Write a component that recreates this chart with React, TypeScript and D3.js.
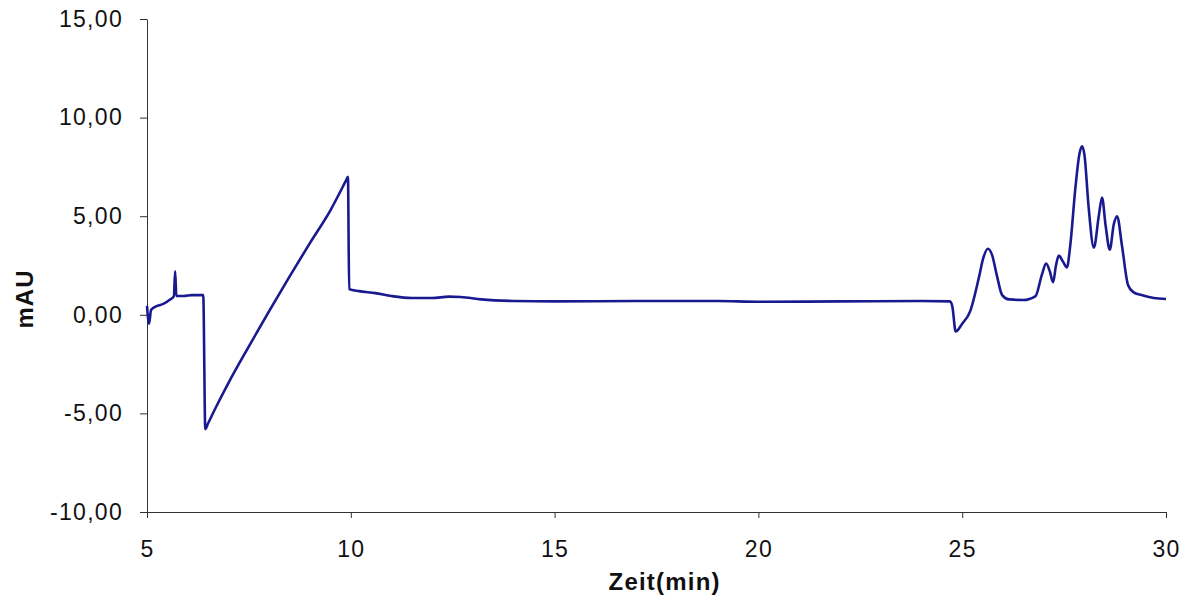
import * as d3 from "d3"
import React, { useEffect, useRef } from "react"

// chromatogram trace: time in min, signal in mAU
const zeit = [
  5.0, 5.05, 5.1, 5.25, 5.4, 5.55, 5.66, 5.69, 5.72, 5.9, 6.1, 6.38,
  6.43, 6.5, 6.7, 7.0, 7.5, 8.0, 8.5, 9.0, 9.5, 9.88, 9.93,
  9.96, 10.2, 10.6, 11.0, 11.5, 12.0, 12.4, 12.7, 13.2, 14.0, 15.0, 17.0, 19.0, 20.0, 22.0, 24.0,
  24.7, 24.76, 24.84, 25.0, 25.2, 25.4, 25.52, 25.63, 25.73, 25.85, 25.98, 26.15, 26.5, 26.8,
  26.95, 27.06, 27.15, 27.23, 27.3, 27.37, 27.47, 27.57, 27.65, 27.78, 27.88, 27.94, 28.0,
  28.1, 28.23, 28.35, 28.43, 28.52, 28.62, 28.72, 28.8, 28.92, 29.07, 29.2, 29.4, 29.7, 30.0
]
const mAU = [
  0.45, -0.45, 0.25, 0.45, 0.55, 0.75, 0.95, 2.2, 0.95, 0.95, 1.0, 1.0,
  -5.8, -5.5, -4.65, -3.45, -1.6, 0.2, 1.95, 3.65, 5.3, 6.8, 7.0,
  1.3, 1.2, 1.1, 0.95, 0.85, 0.85, 0.92, 0.9, 0.78, 0.7, 0.68, 0.7, 0.7, 0.66, 0.68, 0.7,
  0.68, 0.4, -0.85, -0.45, 0.2, 1.8, 2.9, 3.35, 3.05, 2.0, 1.0, 0.78, 0.75, 0.95,
  2.0, 2.6, 2.2, 1.65, 2.5, 3.0, 2.7, 2.4, 3.5, 6.5, 8.2, 8.55, 8.1,
  5.5, 3.4, 5.0, 5.95, 4.5, 3.3, 4.6, 5.0, 3.5, 1.5, 1.15, 1.0, 0.85, 0.8
]

const xTicks = [5, 10, 15, 20, 25, 30]
const yTicks = [-10, -5, 0, 5, 10, 15]

const outerWidth = 1191,
  outerHeight = 598
const margin = { top: 19, right: 25, bottom: 86, left: 147 },
  width = outerWidth - margin.left - margin.right,
  height = outerHeight - margin.top - margin.bottom

const font = "'Liberation Sans', Arial, sans-serif"

const de = d3.formatLocale({
  decimal: ",",
  thousands: ".",
  grouping: [3],
  currency: ["", " €"],
  minus: "-"
})

export default function App() {
  const ref = useRef<SVGSVGElement | null>(null)

  useEffect(() => {
    document.body.style.margin = "0"
    const root = d3.select(ref.current)
    root.selectAll("*").remove()

    const xScale = d3.scaleLinear().domain([5, 30]).range([0, width])
    const yScale = d3.scaleLinear().domain([-10, 15]).range([height, 0])

    const svg = root
      .append("g")
      .attr("transform", "translate(" + margin.left + "," + margin.top + ")")

    //x axis at the bottom
    const gx = svg
      .append("g")
      .attr("transform", "translate(0," + height + ")")
      .call(
        d3.axisBottom(xScale).tickValues(xTicks).tickSize(6).tickSizeOuter(0).tickPadding(23)
      )
    //y axis
    const gy = svg
      .append("g")
      .call(
        d3.axisLeft(yScale).tickValues(yTicks).tickSize(7).tickSizeOuter(0).tickPadding(17)
          .tickFormat((d) => de.format(".2f")(d as number))
      )

    for (const g of [gx, gy]) {
      g.select(".domain").attr("stroke", "#333").attr("stroke-width", 1)
      g.selectAll(".tick line").attr("stroke", "#333")
      g.selectAll(".tick text")
        .attr("fill", "#111")
        .style("font-family", font)
        .style("font-size", "23px")
        .style("letter-spacing", "1.3px")
    }

    //the trace
    const pts = zeit.map((t, i) => [t, mAU[i]] as [number, number])
    const line = d3
      .line<[number, number]>()
      .x((d) => xScale(d[0]))
      .y((d) => yScale(d[1]))
      .curve(d3.curveMonotoneX)
    svg
      .append("path")
      .datum(pts)
      .attr("fill", "none")
      .attr("stroke", "#1a1a90")
      .attr("stroke-width", 2.6)
      .attr("stroke-linejoin", "round")
      .attr("d", line)

    //axis titles
    svg
      .append("text")
      .attr("x", xScale(17.7))
      .attr("y", height + 78)
      .attr("text-anchor", "middle")
      .style("font-family", font)
      .style("font-size", "24px")
      .style("font-weight", "bold")
      .style("letter-spacing", "1.2px")
      .attr("fill", "#111")
      .text("Zeit(min)")

    svg
      .append("text")
      .attr("transform", "translate(" + (-114) + "," + yScale(0.8) + ") rotate(-90)")
      .attr("text-anchor", "middle")
      .style("font-family", font)
      .style("font-size", "24px")
      .style("font-weight", "bold")
      .style("letter-spacing", "1px")
      .attr("fill", "#111")
      .text("mAU")
  }, [])

  return (
    <svg
      ref={ref}
      width={outerWidth}
      height={outerHeight}
      style={{ display: "block", background: "#fff" }}
    />
  )
}
